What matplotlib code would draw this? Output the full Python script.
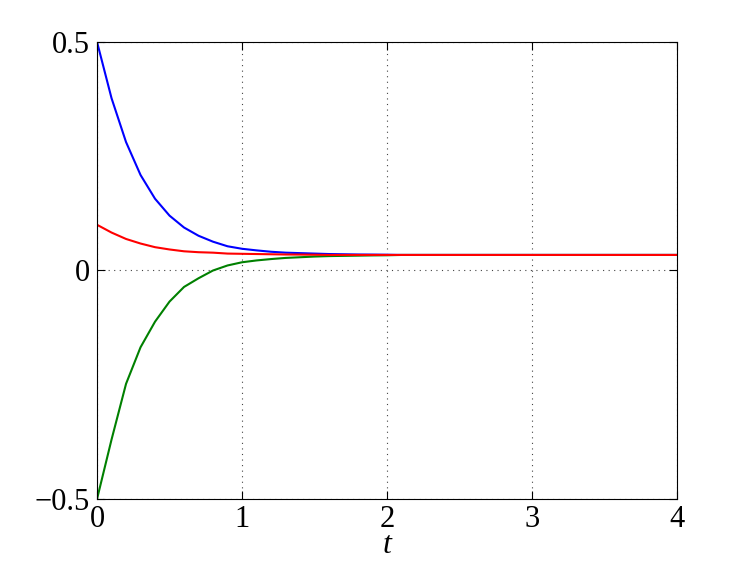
import matplotlib
matplotlib.use("Agg")
import matplotlib.pyplot as plt
import numpy as np

# time samples, step 0.1 from 0 to 4
t = np.round(np.arange(0, 41) * 0.1, 1)

tail = [0.034] * 20

blue = [0.500, 0.377, 0.281, 0.209, 0.157, 0.120, 0.094, 0.076, 0.063, 0.053,
        0.0475, 0.044, 0.041, 0.039, 0.038, 0.037, 0.036, 0.0355, 0.035, 0.0348,
        0.0345] + tail
green = [-0.500, -0.370, -0.248, -0.168, -0.112, -0.068, -0.036, -0.017, 0.000, 0.011,
         0.018, 0.022, 0.025, 0.0275, 0.029, 0.0305, 0.0315, 0.032, 0.0325, 0.033,
         0.0333] + tail
red = [0.100, 0.083, 0.069, 0.059, 0.051, 0.046, 0.042, 0.040, 0.039, 0.037,
       0.0365, 0.036, 0.0355, 0.035, 0.0348, 0.0345, 0.034, 0.034, 0.034, 0.034,
       0.034] + tail

xticks = [0, 1, 2, 3, 4]
yticks = [-0.5, 0, 0.5]

plt.rcParams["font.family"] = ["Liberation Serif", "DejaVu Serif"]

fig = plt.figure(figsize=(7.47, 5.62), dpi=100)
ax = fig.add_axes([0.1299, 0.1121, 0.7764, 0.8132])

ax.plot(t, blue, color=(0, 0, 1), lw=1.5)
ax.plot(t, green, color=(0, 0.5, 0), lw=1.5)
ax.plot(t, red, color=(1, 0, 0), lw=1.5)

ax.set_xlim(0, 4)
ax.set_ylim(-0.5, 0.5)
ax.set_xticks(xticks)
ax.set_yticks(yticks)
ax.set_xticklabels(["0", "1", "2", "3", "4"])
ax.set_yticklabels(["\u22120.5", "0", "0.5"])
ax.grid(True, linestyle=(0, (1, 4)), color="#444444", lw=0.8)
ax.tick_params(direction="in", top=True, right=True, length=6, width=0.8,
               labelsize=22)
ax.tick_params(axis="x", pad=4)
ax.tick_params(axis="y", pad=5)
for s in ax.spines.values():
    s.set_linewidth(0.8)

ax.set_xlabel("t", fontsize=23, style="italic", labelpad=-2)

fig.savefig("out.png", dpi=100)
